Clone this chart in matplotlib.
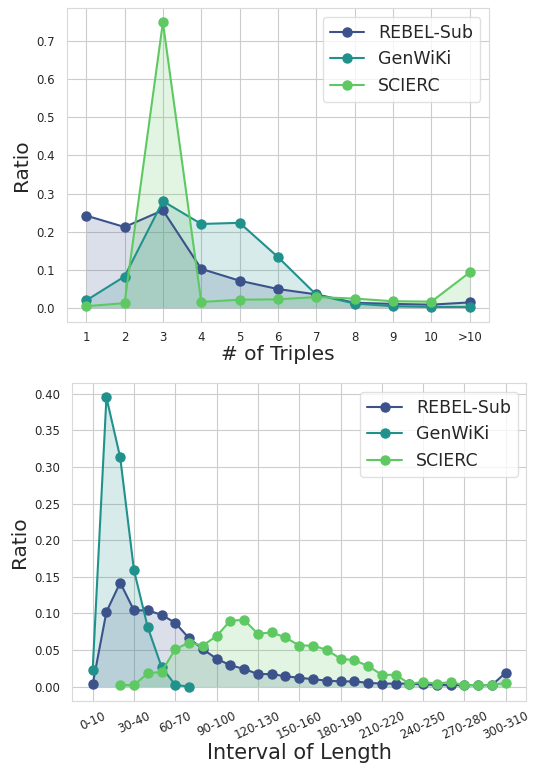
import numpy as np
import matplotlib
matplotlib.use('Agg')
import matplotlib.pyplot as plt
import seaborn as sns

sns.set_style('whitegrid')
plt.rcParams['font.family'] = ['DejaVu Sans']

nan = np.nan

# number of triples per sample
triples = ['1', '2', '3', '4', '5', '6', '7', '8', '9', '10', '>10']
rebel_triples = [0.242, 0.212, 0.256, 0.102, 0.071, 0.049, 0.035, 0.013, 0.010, 0.008, 0.014]
genwiki_triples = [0.019, 0.082, 0.280, 0.220, 0.223, 0.133, 0.034, 0.011, 0.004, 0.002, 0.002]
scierc_triples = [0.004, 0.012, 0.750, 0.015, 0.021, 0.022, 0.028, 0.024, 0.017, 0.016, 0.093]
triples_yticks = [0.0, 0.1, 0.2, 0.3, 0.4, 0.5, 0.6, 0.7]

# length intervals
intervals = ['0-10', '10-20', '20-30', '30-40', '40-50', '50-60', '60-70', '70-80',
             '80-90', '90-100', '100-110', '110-120', '120-130', '130-140', '140-150',
             '150-160', '160-170', '170-180', '180-190', '190-200', '200-210', '210-220',
             '220-230', '230-240', '240-250', '250-260', '260-270', '270-280', '280-290',
             '290-300', '300-310']
rebel_len = [0.003, 0.102, 0.142, 0.104, 0.104, 0.098, 0.087, 0.066, 0.051, 0.038,
             0.029, 0.024, 0.017, 0.017, 0.014, 0.012, 0.010, 0.008, 0.007, 0.007,
             0.005, 0.004, 0.004, 0.004, 0.003, 0.002, 0.002, 0.002, 0.002, 0.002, 0.019]
genwiki_len = [0.022, 0.395, 0.313, 0.159, 0.081, 0.027, 0.002, 0.000, nan, nan,
               nan, nan, nan, nan, nan, nan, nan, nan, nan, nan,
               nan, nan, nan, nan, nan, nan, nan, nan, nan, nan, nan]
scierc_len = [nan, nan, 0.002, 0.002, 0.018, 0.020, 0.051, 0.060, 0.056, 0.069,
              0.090, 0.091, 0.072, 0.074, 0.067, 0.056, 0.056, 0.050, 0.038, 0.036,
              0.028, 0.016, 0.016, 0.004, 0.006, 0.004, 0.006, 0.002, 0.002, 0.002, 0.005]
len_yticks = [0.0, 0.05, 0.10, 0.15, 0.20, 0.25, 0.30, 0.35, 0.40]

names = ['REBEL-Sub', 'GenWiKi', 'SCIERC']
colors = ['#3b528b', '#21918c', '#5ec962']


def draw(ax, labels, series, yticks, yfmt):
    x = np.arange(len(labels))
    for vals, name, c in zip(series, names, colors):
        y = np.array(vals, dtype=float)
        ax.plot(x, y, marker='o', markersize=6.5, linewidth=1.5, color=c, label=name)
        ax.fill_between(x, y, color=c, alpha=0.18, linewidth=0)
    ax.set_ylabel('Ratio', fontsize=14.5)
    ax.tick_params(axis='y', labelsize=8.5, pad=5, colors='.15')
    ax.tick_params(axis='x', labelsize=8.5, pad=3, colors='.15')
    ax.set_yticks(yticks)
    ax.yaxis.set_major_formatter(plt.FormatStrFormatter(yfmt))
    for sp in ax.spines.values():
        sp.set_color('.85')
    ax.legend(loc='upper right', fontsize=12.5, frameon=True, edgecolor='.85')


fig = plt.figure(figsize=(5.33, 7.65), dpi=100)

ax1 = fig.add_axes([0.1257, 0.5791, 0.7917, 0.4105])
draw(ax1, triples, [rebel_triples, genwiki_triples, scierc_triples], triples_yticks, '%.1f')
ax1.set_xticks(np.arange(len(triples)))
ax1.set_xticklabels(triples)
ax1.set_xlabel('# of Triples', fontsize=14.5, labelpad=1)

ax2 = fig.add_axes([0.1351, 0.0837, 0.8525, 0.4157])
draw(ax2, intervals, [rebel_len, genwiki_len, scierc_len], len_yticks, '%.2f')
ticks = np.arange(0, len(intervals), 3)
ax2.set_xticks(ticks)
ax2.set_xticklabels([intervals[i] for i in ticks], rotation=25)
ax2.tick_params(axis='x', pad=2.5)
ax2.set_xlabel('Interval of Length', fontsize=15, labelpad=0.5)

fig.savefig('out.png', dpi=100)
